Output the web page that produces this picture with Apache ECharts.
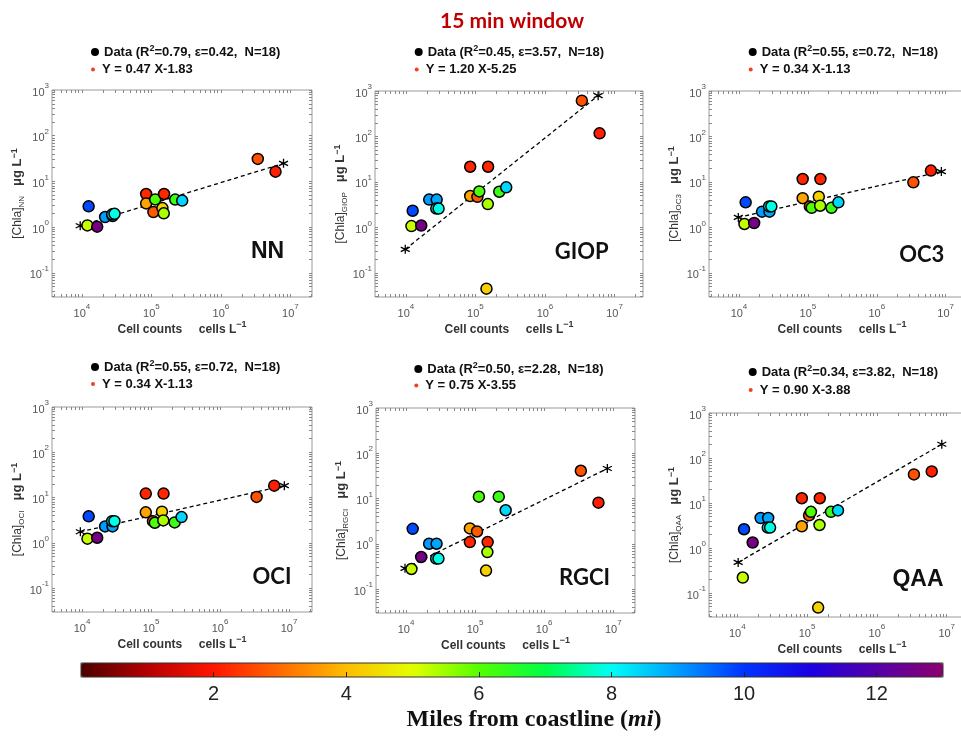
<!DOCTYPE html>
<html><head><meta charset="utf-8">
<script src="https://cdn.jsdelivr.net/npm/echarts@6/dist/echarts.min.js"></script>
<style>html,body{margin:0;padding:0;background:#fff}#c{width:961px;height:736px}</style>
</head><body><div id="c"></div>
<script>
// ---------------- DATA ----------------
const cellCounts = [12500, 12000, 16600, 21600, 27700, 27300, 29500, 84000, 84000, 106700, 113500, 152000, 144000, 150600, 220000, 277000, 3390000, 6100000];
const milesFromCoast = [9.8, 5.2, 12.6, 9.0, 8.9, 8.2, 7.9, 2.2, 3.7, 2.8, 6.1, 2.2, 4.3, 5.4, 6.3, 8.4, 2.7, 2.1];
const chlaNN   = [2.84, 1.09, 1.02, 1.66, 1.75, 1.9, 1.95, 5.3, 3.3, 2.13, 4.03, 5.3, 2.6, 2.0, 4.0, 3.8, 31, 16.3];
const chlaGIOP = [2.33, 1.07, 1.1, 4.1, 4.1, 2.6, 2.6, 21.6, 4.9, 4.7, 6.2, 21.6, 0.045, 3.26, 6.1, 7.6, 614, 117];
const chlaOC3  = [3.56, 1.19, 1.25, 2.22, 2.22, 2.9, 2.9, 11.6, 4.4, 2.9, 2.7, 11.6, 4.75, 3.0, 2.7, 3.56, 9.8, 17.8];
const chlaOCI  = [3.83, 1.23, 1.29, 2.3, 2.3, 3.0, 3.0, 12.2, 4.7, 3.0, 2.77, 12.2, 4.86, 3.12, 2.82, 3.7, 10.3, 18.3];
const chlaRGCI = [2.14, 0.277, 0.51, 1.0, 1.0, 0.47, 0.47, 1.09, 2.18, 1.87, 11.0, 1.09, 0.255, 0.655, 11.0, 5.5, 41, 8.1];
const chlaQAA  = [2.62, 0.222, 1.33, 4.65, 4.65, 2.85, 2.85, 12.8, 3.05, 5.33, 6.4, 12.8, 0.0477, 3.26, 6.4, 6.87, 43.3, 50.4];
// fitted-line endpoints (asterisks)
const fitX_NN = [9460, 7950000],  fitY_NN = [1.07, 24.8];
const fitX_GIOP = [9780, 5820000], fitY_GIOP = [0.33, 790];
const fitX_OC3 = [9780, 8650000], fitY_OC3 = [1.66, 16.9];
const fitX_OCI = [9460, 8550000], fitY_OCI = [1.75, 18.3];
const fitX_RGCI = [9680, 8200000], fitY_RGCI = [0.286, 46];
const fitX_QAA = [10300, 8500000], fitY_QAA = [0.48, 202];
const panelNames = ['NN', 'GIOP', 'OC3', 'OCI', 'RGCI', 'QAA'];
const legendDataNames = [
  'Data (R²=0.79, ε=0.42,  N=18)', 'Data (R²=0.45, ε=3.57,  N=18)', 'Data (R²=0.55, ε=0.72,  N=18)',
  'Data (R²=0.55, ε=0.72,  N=18) ', 'Data (R²=0.50, ε=2.28,  N=18)', 'Data (R²=0.34, ε=3.82,  N=18)'];
const legendFitNames = ['Y = 0.47 X-1.83', 'Y = 1.20 X-5.25', 'Y = 0.34 X-1.13', 'Y = 0.34 X-1.13 ', 'Y = 0.75 X-3.55', 'Y = 0.90 X-3.88'];
const xTickExponents = [4, 5, 6, 7];
const yTickExponents = [-1, 0, 1, 2, 3];
const colorbarTicks = [2, 4, 6, 8, 10, 12];
const colorbarRange = [0, 13];

// ---------------- LAYOUT ----------------
const chlaSets = [chlaNN, chlaGIOP, chlaOC3, chlaOCI, chlaRGCI, chlaQAA];
const fitXs = [fitX_NN, fitX_GIOP, fitX_OC3, fitX_OCI, fitX_RGCI, fitX_QAA];
const fitYs = [fitY_NN, fitY_GIOP, fitY_OC3, fitY_OCI, fitY_RGCI, fitY_QAA];
const layout = [
  {left: 52,  top: 90,  width: 260, height: 207, xr: [3.57, 7.31],  lg: [91, 52, 69.5],    lab: [267.5, 251.5, 'arial']},
  {left: 375, top: 91,  width: 268, height: 206, xr: [3.555, 7.41], lg: [414.7, 52, 69.5], lab: [581.7, 251.5, 'lato']},
  {left: 709, top: 91,  width: 266, height: 206, xr: [3.565, 7.425], lg: [748.7, 52, 69.5], lab: [921.7, 255, 'lato']},
  {left: 52,  top: 407, width: 260, height: 205, xr: [3.565, 7.333], lg: [91, 367, 384],    lab: [272, 576.5, 'lato']},
  {left: 376, top: 408, width: 259, height: 205, xr: [3.566, 7.314], lg: [414.3, 369, 385.5], lab: [584.5, 578.3, 'lato']},
  {left: 709, top: 413, width: 266, height: 204, xr: [3.595, 7.405], lg: [748.7, 372, 390],  lab: [918, 579.8, 'arial']}
];
const yRange = [-1.53, 3];
const cmap = ['#4d0000','#b40000','#ff1600','#ff6a00','#ffbc00','#e3ff00','#55ff00','#00ff46','#00fff6','#009cff','#0034ff','#1c00e2','#5400a8','#8c006e'];
const SANS = '"Liberation Sans", Arial, sans-serif';

function logTicks(min, max) {
  const out = [];
  for (let n = Math.floor(min); n <= Math.ceil(max); n++)
    for (let k = 1; k <= 9; k++) { const v = n + Math.log10(k); if (v >= min - 1e-9 && v <= max + 1e-9) out.push(v); }
  return out;
}
const tickRich = {
  b: {fontSize: 11, color: '#555', fontFamily: SANS, lineHeight: 16, verticalAlign: 'bottom'},
  s: {fontSize: 8, color: '#555', fontFamily: SANS, lineHeight: 10, verticalAlign: 'top'}
};
const powFmt = v => '{b|10}{s|' + Math.round(v) + '}';
const tickStyle = {show: true, inside: true, length: 3, lineStyle: {color: '#888', width: 1}};
const noLine = {show: false, onZero: false};

const grids = [], xAxes = [], yAxes = [], series = [], legends = [], graphics = [];
layout.forEach((L, i) => {
  grids.push({left: L.left, top: L.top, width: L.width, height: L.height, show: true, borderColor: '#9a9a9a', borderWidth: 1,
    backgroundColor: '#fff', outerBoundsMode: 'none', containLabel: false});
  const xt = logTicks(L.xr[0], L.xr[1]), yt = logTicks(yRange[0], yRange[1]);
  xAxes.push({
    gridIndex: i, type: 'value', min: L.xr[0], max: L.xr[1],
    axisLine: noLine, splitLine: {show: false},
    axisTick: Object.assign({customValues: xt}, tickStyle),
    axisLabel: {customValues: xTickExponents, formatter: powFmt, rich: tickRich, margin: 6},
    name: '{b|Cell counts     cells L}{p|−1}', nameLocation: 'middle', nameGap: 21,
    nameTextStyle: {rich: {
      b: {fontSize: 12, fontWeight: 'bold', color: '#333', fontFamily: SANS, lineHeight: 16, verticalAlign: 'bottom'},
      p: {fontSize: 9, fontWeight: 'bold', color: '#333', fontFamily: SANS, lineHeight: 10, verticalAlign: 'top'}}}
  });
  xAxes.push({gridIndex: i, type: 'value', position: 'top', min: L.xr[0], max: L.xr[1],
    axisLine: noLine, splitLine: {show: false}, axisLabel: {show: false},
    axisTick: Object.assign({customValues: xt}, tickStyle)});
  yAxes.push({
    gridIndex: i, type: 'value', min: yRange[0], max: yRange[1],
    axisLine: noLine, splitLine: {show: false},
    axisTick: Object.assign({customValues: yt}, tickStyle),
    axisLabel: {customValues: yTickExponents, formatter: powFmt, rich: tickRich, margin: 3},
    name: '{n|[Chla]}{sub|' + panelNames[i] + '}{n|   }{u|μg L}{p|−1}', nameLocation: 'middle', nameGap: 23, nameRotate: 90,
    nameTextStyle: {rich: {
      n: {fontSize: 12, color: '#333', fontFamily: SANS, lineHeight: 16},
      sub: {fontSize: 8, color: '#333', fontFamily: SANS, lineHeight: 9, verticalAlign: 'bottom'},
      u: {fontSize: 13, fontWeight: 'bold', color: '#333', fontFamily: SANS, lineHeight: 16},
      p: {fontSize: 9, fontWeight: 'bold', color: '#333', fontFamily: SANS, lineHeight: 9, verticalAlign: 'top'}}}
  });
  yAxes.push({gridIndex: i, type: 'value', position: 'right', min: yRange[0], max: yRange[1],
    axisLine: noLine, splitLine: {show: false}, axisLabel: {show: false},
    axisTick: Object.assign({customValues: yt}, tickStyle)});

  const fx = fitXs[i], fy = fitYs[i];
  series.push({
    name: legendFitNames[i], type: 'line', xAxisIndex: 2 * i, yAxisIndex: 2 * i,
    data: fx.map((x, k) => [Math.log10(x), Math.log10(fy[k])]),
    lineStyle: {type: [4, 3], color: '#000', width: 1.3},
    symbol: 'path://M0,-5L0,5M-4.33,-2.5L4.33,2.5M-4.33,2.5L4.33,-2.5', symbolSize: 9, showSymbol: true,
    itemStyle: {color: '#000', borderColor: '#000', borderWidth: 1.3}, z: 2, silent: true
  });
  series.push({
    name: legendDataNames[i], type: 'scatter', xAxisIndex: 2 * i, yAxisIndex: 2 * i,
    data: cellCounts.map((x, k) => [Math.log10(x), Math.log10(chlaSets[i][k]), milesFromCoast[k]]),
    symbolSize: 11, itemStyle: {borderColor: '#000', borderWidth: 1.5, opacity: 1}, z: 3
  });
  const legTxt = {fontSize: 13, fontWeight: 'bold', color: '#111', fontFamily: SANS, lineHeight: 16};
  legends.push({
    left: L.lg[0], top: L.lg[1] - 8, padding: 0, itemWidth: 8, itemHeight: 8, selectedMode: false,
    data: [{name: legendDataNames[i], icon: 'circle', itemStyle: {color: '#000', borderWidth: 0}}],
    formatter: n => '{a|' + n.replace('R²', 'R}{s|2}{a|') + '}',
    textStyle: Object.assign({rich: {a: legTxt, s: {fontSize: 9, fontWeight: 'bold', color: '#111', fontFamily: SANS, lineHeight: 9, verticalAlign: 'top'}}}, legTxt)
  });
  legends.push({
    left: L.lg[0], top: L.lg[2] - 8, padding: 0, itemWidth: 8, itemHeight: 4, selectedMode: false,
    data: [{name: legendFitNames[i], icon: 'circle', itemStyle: {color: '#f2401e', borderWidth: 0}}],
    textStyle: legTxt
  });
  graphics.push({type: 'text', x: L.lab[0], y: L.lab[1], z: 100,
    style: {text: panelNames[i], textAlign: 'center', textVerticalAlign: 'middle', fill: '#111',
      font: L.lab[2] === 'lato' ? 'bold 22px Lato' : 'bold 23px "Liberation Sans"'}});
});

// colorbar axis grid
grids.push({left: 81, top: 663, width: 862, height: 14, show: true, borderColor: '#333', borderWidth: 1, backgroundColor: 'transparent', z: 10, outerBoundsMode: 'none'});
xAxes.push({gridIndex: 6, type: 'value', min: colorbarRange[0], max: colorbarRange[1], z: 12,
  axisLine: noLine, splitLine: {show: false},
  axisTick: {show: true, inside: true, length: 5, customValues: colorbarTicks, lineStyle: {color: '#222', width: 1}},
  axisLabel: {customValues: colorbarTicks, fontSize: 20, color: '#222', fontFamily: SANS, margin: 7}});
yAxes.push({gridIndex: 6, type: 'value', min: 0, max: 1, show: false});

const option = {
  animation: false,
  backgroundColor: '#fff',
  title: [
    {text: '15 min window', left: 507, top: 6, textAlign: 'center', textStyle: {fontFamily: 'Lato', fontWeight: 'bold', fontSize: 21, color: '#c00000'}},
    {text: '{a|Miles from coastline (}{i|mi}{a|)}', left: 529, top: 703, textAlign: 'center',
     textStyle: {rich: {
       a: {fontFamily: '"Liberation Serif", serif', fontWeight: 'bold', fontSize: 24, color: '#111'},
       i: {fontFamily: '"Liberation Serif", serif', fontWeight: 'bold', fontStyle: 'italic', fontSize: 24, color: '#111'}}}}
  ],
  grid: grids, xAxis: xAxes, yAxis: yAxes, legend: legends, series: series, graphic: graphics,
  visualMap: {
    type: 'continuous', min: colorbarRange[0], max: colorbarRange[1], orient: 'horizontal',
    left: 81, top: 663, itemWidth: 14, itemHeight: 862, padding: 0, calculable: false, hoverLink: false,
    seriesIndex: [1, 3, 5, 7, 9, 11], dimension: 2, inRange: {color: cmap}, text: null, showLabel: false
  }
};
const chart = echarts.init(document.getElementById('c'));
chart.setOption(option);
</script></body></html>
